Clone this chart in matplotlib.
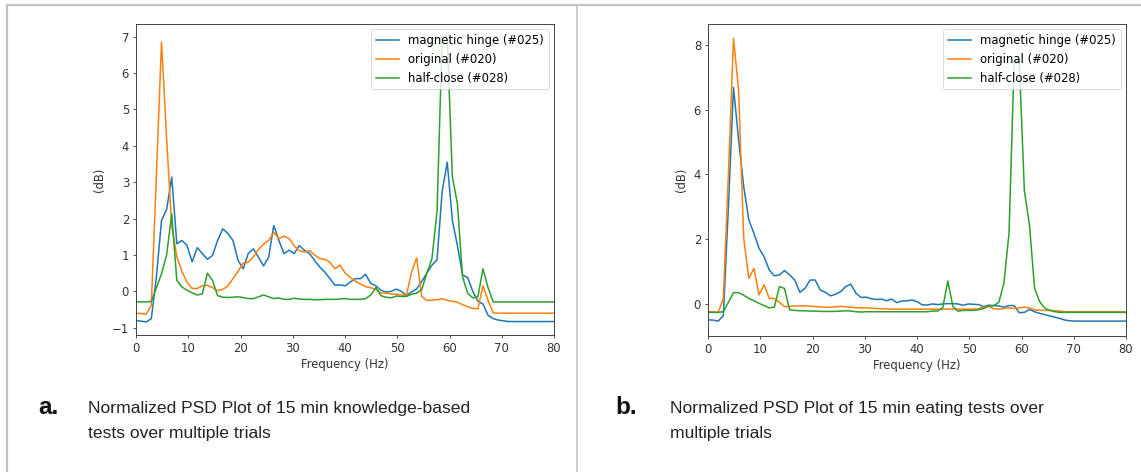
import numpy as np
import matplotlib
matplotlib.use("Agg")
import matplotlib.pyplot as plt
from matplotlib.lines import Line2D

# ---------------- data ----------------
n_points = 83
freq_step = 250 / 256  # Hz per bin
labels = ["magnetic hinge (#025)", "original (#020)", "half-close (#028)"]
colors = ["#1f77b4", "#ff7f0e", "#2ca02c"]

a_magnetic = [
    -0.80, -0.82, -0.84, -0.75, 0.40, 1.95, 2.25, 3.14, 1.31, 1.40,
    1.26, 0.81, 1.20, 1.04, 0.88, 0.99, 1.40, 1.72, 1.59, 1.40,
    0.85, 0.62, 1.04, 1.17, 0.94, 0.70, 0.94, 1.81, 1.40, 1.04,
    1.13, 1.04, 1.26, 1.13, 1.04, 0.85, 0.67, 0.53, 0.35, 0.17,
    0.18, 0.15, 0.26, 0.35, 0.35, 0.47, 0.22, 0.15, 0.03, -0.02,
    0.00, 0.06, 0.00, -0.11, -0.02, 0.07, 0.27, 0.50, 0.72, 0.87,
    2.75, 3.55, 1.95, 1.25, 0.45, 0.38, 0.00, -0.27, -0.35, -0.66,
    -0.75, -0.79, -0.81, -0.83, -0.83, -0.83, -0.83, -0.83, -0.83, -0.83,
    -0.83, -0.83, -0.83]
a_original = [
    -0.60, -0.61, -0.63, -0.38, 3.20, 6.86, 4.20, 1.80, 0.95, 0.55,
    0.25, 0.08, 0.08, 0.15, 0.17, 0.10, 0.02, 0.05, 0.15, 0.35,
    0.55, 0.78, 0.80, 0.95, 1.15, 1.30, 1.40, 1.62, 1.45, 1.52,
    1.45, 1.25, 1.12, 1.08, 1.12, 1.00, 0.90, 0.88, 0.80, 0.62,
    0.72, 0.50, 0.38, 0.28, 0.20, 0.13, 0.10, 0.05, -0.05, -0.05,
    -0.07, -0.08, -0.10, -0.11, 0.53, 0.92, -0.14, -0.25, -0.24, -0.23,
    -0.20, -0.25, -0.27, -0.30, -0.37, -0.42, -0.47, -0.48, 0.15, -0.25,
    -0.59, -0.60, -0.60, -0.60, -0.60, -0.60, -0.60, -0.60, -0.60, -0.60,
    -0.60, -0.60, -0.60]
a_halfclose = [
    -0.29, -0.29, -0.29, -0.28, 0.10, 0.48, 1.00, 2.13, 0.30, 0.12,
    0.03, -0.04, -0.10, -0.07, 0.50, 0.30, -0.12, -0.16, -0.17, -0.16,
    -0.15, -0.17, -0.20, -0.20, -0.15, -0.10, -0.15, -0.20, -0.18, -0.22,
    -0.22, -0.19, -0.21, -0.22, -0.22, -0.23, -0.23, -0.22, -0.22, -0.22,
    -0.21, -0.20, -0.22, -0.22, -0.22, -0.20, -0.10, 0.10, -0.12, -0.16,
    -0.18, -0.13, -0.14, -0.14, -0.08, -0.05, 0.05, 0.50, 0.90, 2.20,
    7.00, 7.00, 3.15, 2.40, 0.40, -0.05, -0.18, -0.15, 0.62, 0.10,
    -0.29, -0.29, -0.29, -0.29, -0.29, -0.29, -0.29, -0.29, -0.29, -0.29,
    -0.29, -0.29, -0.29]

b_magnetic = [
    -0.49, -0.50, -0.53, -0.36, 3.00, 6.69, 5.07, 3.62, 2.60, 2.18,
    1.72, 1.46, 1.05, 0.87, 0.90, 1.03, 0.90, 0.74, 0.36, 0.48,
    0.74, 0.74, 0.43, 0.36, 0.25, 0.30, 0.38, 0.54, 0.61, 0.33,
    0.20, 0.21, 0.16, 0.14, 0.15, 0.10, 0.15, 0.04, 0.09, 0.10,
    0.12, 0.07, -0.03, -0.03, 0.00, -0.02, 0.00, 0.01, 0.01, 0.00,
    -0.04, 0.00, -0.01, -0.02, -0.08, -0.04, -0.05, -0.06, -0.10, -0.05,
    -0.05, -0.27, -0.26, -0.17, -0.24, -0.29, -0.33, -0.37, -0.41, -0.45,
    -0.50, -0.52, -0.53, -0.53, -0.53, -0.53, -0.53, -0.53, -0.53, -0.53,
    -0.53, -0.53, -0.53]
b_original = [
    -0.24, -0.24, -0.26, 0.17, 4.00, 8.20, 6.60, 2.03, 0.79, 1.10,
    0.28, 0.59, 0.17, 0.17, 0.05, -0.08, -0.08, -0.06, -0.06, -0.06,
    -0.07, -0.08, -0.09, -0.10, -0.10, -0.09, -0.07, -0.09, -0.10, -0.12,
    -0.12, -0.12, -0.13, -0.14, -0.15, -0.15, -0.16, -0.16, -0.16, -0.16,
    -0.16, -0.16, -0.16, -0.16, -0.16, -0.16, -0.16, -0.16, -0.16, -0.16,
    -0.16, -0.16, -0.16, -0.15, -0.10, -0.07, -0.15, -0.16, -0.14, -0.12,
    -0.14, -0.12, -0.10, -0.12, -0.18, -0.19, -0.20, -0.20, -0.21, -0.22,
    -0.24, -0.24, -0.24, -0.24, -0.24, -0.24, -0.24, -0.24, -0.24, -0.24,
    -0.24, -0.24, -0.24]
b_halfclose = [
    -0.26, -0.26, -0.26, -0.24, 0.05, 0.35, 0.35, 0.27, 0.17, 0.10,
    0.02, -0.05, -0.12, -0.10, 0.54, 0.48, -0.18, -0.20, -0.21, -0.21,
    -0.22, -0.22, -0.23, -0.23, -0.23, -0.23, -0.22, -0.21, -0.22, -0.24,
    -0.25, -0.24, -0.24, -0.24, -0.24, -0.24, -0.24, -0.24, -0.24, -0.24,
    -0.24, -0.24, -0.24, -0.24, -0.22, -0.22, -0.12, 0.71, -0.08, -0.22,
    -0.20, -0.20, -0.20, -0.18, -0.14, -0.07, -0.05, 0.05, 0.65, 2.20,
    7.50, 7.50, 3.50, 2.44, 0.48, 0.07, -0.13, -0.20, -0.24, -0.26,
    -0.26, -0.26, -0.26, -0.26, -0.26, -0.26, -0.26, -0.26, -0.26, -0.26,
    -0.26, -0.26, -0.26]

captions = ["Normalized PSD Plot of 15 min knowledge-based\ntests over multiple trials",
            "Normalized PSD Plot of 15 min eating tests over\nmultiple trials"]
panel_letters = ["a.", "b."]
xticks = [0, 10, 20, 30, 40, 50, 60, 70, 80]
a_yticks = [-1, 0, 1, 2, 3, 4, 5, 6, 7]
b_yticks = [0, 2, 4, 6, 8]

# ---------------- figure ----------------
W, H = 1141, 472
fig = plt.figure(figsize=(W / 100, H / 100), dpi=100)
fig.patch.set_facecolor("white")

freq = np.arange(n_points) * freq_step


def px_axes(x0, y0, x1, y1):
    return fig.add_axes([x0 / W, 1 - y1 / H, (x1 - x0) / W, (y1 - y0) / H])


panels = [
    (px_axes(136, 24, 554, 335), [a_magnetic, a_original, a_halfclose], (-1.2, 7.35), a_yticks),
    (px_axes(708, 24, 1126, 336), [b_magnetic, b_original, b_halfclose], (-0.99, 8.65), b_yticks),
]

fs = 8.4
for ax, series, ylim, yt in panels:
    for s, c, lab in zip(series, colors, labels):
        ax.plot(freq, s, color=c, lw=1.1, label=lab)
    ax.set_xlim(0, 80)
    ax.set_ylim(*ylim)
    ax.set_xticks(xticks)
    ax.set_yticks(yt)
    ax.tick_params(labelsize=fs, length=2.5, width=0.6, colors="#333333", pad=2.5)
    for sp in ax.spines.values():
        sp.set_linewidth(0.7)
        sp.set_color("#444444")
    ax.set_xlabel("Frequency (Hz)", fontsize=fs, color="#333333", labelpad=2)
    ax.set_ylabel("(dB)", fontsize=fs, color="#333333", labelpad=4)
    leg = ax.legend(loc="upper right", fontsize=fs, framealpha=0.8,
                    handlelength=2.0, borderaxespad=0.45)
    leg.get_frame().set_linewidth(0.6)

# frame lines
gray = "#c4c4c4"
fig.add_artist(Line2D([6.5 / W, 1.0], [1 - 5 / H, 1 - 5 / H], color=gray, lw=1.6))
fig.add_artist(Line2D([6.5 / W, 6.5 / W], [0, 1 - 5 / H], color=gray, lw=1.6))
fig.add_artist(Line2D([577 / W, 577 / W], [0, 1 - 5 / H], color=gray, lw=1.2))

# captions
cap_font = ["Liberation Sans", "DejaVu Sans"]
for (lx, tx), letter, cap in zip([(38, 88), (615, 670)], panel_letters, captions):
    fig.text(lx / W, 1 - 414 / H, letter, fontsize=17.5, fontweight="bold",
             family=cap_font, va="baseline", ha="left", color="#111111")
    fig.text(tx / W, 1 - 401 / H, cap, fontsize=12.6, family=cap_font,
             va="top", ha="left", color="#222222", linespacing=1.8)

fig.savefig("out.png", dpi=100)
